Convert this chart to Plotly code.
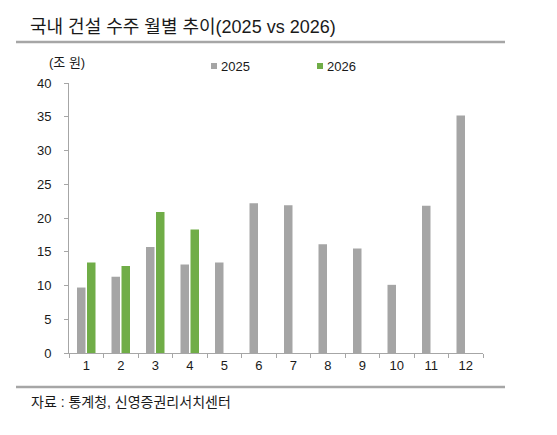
import plotly.graph_objects as go

months = [str(m) for m in range(1, 13)]
series_names = ["2025", "2026"]
values_2025 = [9.7, 11.3, 15.7, 13.1, 13.4, 22.2, 21.9, 16.1, 15.5, 10.1, 21.8, 35.2]
values_2026 = [13.4, 12.9, 20.9, 18.3, None, None, None, None, None, None, None, None]
colors = ["#A5A5A5", "#70AD47"]
y_ticks = [0, 5, 10, 15, 20, 25, 30, 35, 40]

title_text = "국내 건설 수주 월별 추이(2025 vs 2026)"
unit_text = "(조 원)"
source_text = "자료 : 통계청, 신영증권리서치센터"

W, H = 557, 435
L, R, T, B = 69, 74, 83, 82
pw, ph = W - L - R, H - T - B


def px_x(x):
    return (x - L) / pw


def px_y(y):
    return (H - B - y) / ph


FONT = "Liberation Sans, Arial, Noto Sans CJK KR"
TXT = "#1a1a1a"

fig = go.Figure()
for name, vals, c in zip(series_names, [values_2025, values_2026], colors):
    fig.add_trace(go.Bar(x=months, y=vals, name=name, marker=dict(color=c, line=dict(width=0)),
                         showlegend=False))

fig.update_layout(
    width=W, height=H,
    margin=dict(l=L, r=R, t=T, b=B),
    paper_bgcolor="white", plot_bgcolor="white",
    barmode="group", bargap=0.42, bargroupgap=0.15,
    font=dict(family=FONT, size=13, color=TXT),
    xaxis=dict(type="category", showline=True, linecolor="#A6A6A6", linewidth=1,
               ticks="outside", tickson="boundaries", ticklen=4, tickcolor="#A6A6A6",
               showgrid=False, tickfont=dict(size=13, color=TXT)),
    yaxis=dict(range=[0, 40], tickvals=y_ticks, showline=True, linecolor="#A6A6A6", linewidth=1,
               ticks="outside", ticklen=4, tickcolor="#A6A6A6", showgrid=False, zeroline=False,
               ticklabelstandoff=10, tickfont=dict(size=13, color=TXT)),
)

shapes = []
annotations = []
# title and rules
annotations.append(dict(xref="paper", yref="paper", x=px_x(28), y=px_y(27), xanchor="left", yanchor="middle",
                        text=title_text, showarrow=False, font=dict(size=18, color=TXT)))
for yy in (42, 387):
    shapes.append(dict(type="line", xref="paper", yref="paper", x0=px_x(16), x1=px_x(505),
                       y0=px_y(yy), y1=px_y(yy), line=dict(color="#A6A6A6", width=2.5)))
annotations.append(dict(xref="paper", yref="paper", x=px_x(29), y=px_y(402), xanchor="left", yanchor="middle",
                        text=source_text, showarrow=False, font=dict(size=14, color=TXT)))
annotations.append(dict(xref="paper", yref="paper", x=px_x(47), y=px_y(63), xanchor="left", yanchor="middle",
                        text=unit_text, showarrow=False, font=dict(size=13, color=TXT)))
# legend
for name, c, lx in zip(series_names, colors, [211, 317]):
    shapes.append(dict(type="rect", xref="paper", yref="paper", x0=px_x(lx), x1=px_x(lx + 6),
                       y0=px_y(69), y1=px_y(63), fillcolor=c, line=dict(width=0)))
    annotations.append(dict(xref="paper", yref="paper", x=px_x(lx + 8), y=px_y(66), xanchor="left",
                            yanchor="middle", text=name, showarrow=False, font=dict(size=13, color=TXT)))

fig.update_layout(shapes=shapes, annotations=annotations)
fig.write_html("out.html")
